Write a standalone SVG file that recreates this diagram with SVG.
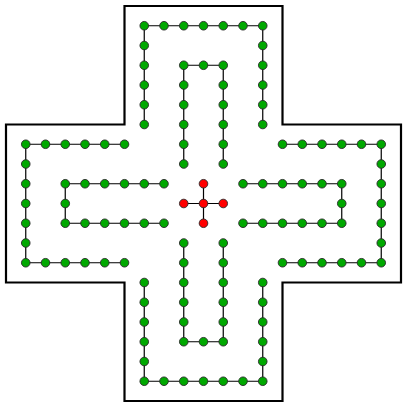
<svg xmlns="http://www.w3.org/2000/svg" width="407" height="407" viewBox="0 0 407 407">
<style>
.g{fill:#00a800;stroke:#2a2a2a;stroke-width:0.9}
.r{fill:#ff0000;stroke:#2a2a2a;stroke-width:0.9}
.e{fill:none;stroke:#000;stroke-width:1.2}
.o{fill:none;stroke:#000;stroke-width:2.2}
</style>
<rect width="407" height="407" fill="#fff"/>
<polygon id="outline" class="o" points="124.5,6 282.5,6 282.5,124.5 401,124.5 401,282.5 282.5,282.5 282.5,401 124.5,401 124.5,282.5 6,282.5 6,124.5 124.5,124.5"/>
<g id="connectors">
<polyline class="e" points="144.25,124.5 144.25,25.75 262.75,25.75 262.75,124.5"/>
<polyline class="e" points="183.75,164 183.75,65.25 223.25,65.25 223.25,164"/>
<polyline class="e" points="144.25,282.5 144.25,381.25 262.75,381.25 262.75,282.5"/>
<polyline class="e" points="183.75,243 183.75,341.75 223.25,341.75 223.25,243"/>
<polyline class="e" points="124.5,144.25 25.75,144.25 25.75,262.75 124.5,262.75"/>
<polyline class="e" points="164,183.75 65.25,183.75 65.25,223.25 164,223.25"/>
<polyline class="e" points="282.5,144.25 381.25,144.25 381.25,262.75 282.5,262.75"/>
<polyline class="e" points="243,183.75 341.75,183.75 341.75,223.25 243,223.25"/>
<line class="e" x1="203.5" y1="183.75" x2="203.5" y2="223.25"/>
<line class="e" x1="183.75" y1="203.5" x2="223.25" y2="203.5"/>
</g>
<g id="top-outer">
<g id="t1"><circle class="g" cx="144.25" cy="124.5" r="4.3"/></g>
<g id="t2"><circle class="g" cx="144.25" cy="104.75" r="4.3"/></g>
<g id="t3"><circle class="g" cx="144.25" cy="85" r="4.3"/></g>
<g id="t4"><circle class="g" cx="144.25" cy="65.25" r="4.3"/></g>
<g id="t5"><circle class="g" cx="144.25" cy="45.5" r="4.3"/></g>
<g id="t6"><circle class="g" cx="144.25" cy="25.75" r="4.3"/></g>
<g id="t7"><circle class="g" cx="164" cy="25.75" r="4.3"/></g>
<g id="t8"><circle class="g" cx="183.75" cy="25.75" r="4.3"/></g>
<g id="t9"><circle class="g" cx="203.5" cy="25.75" r="4.3"/></g>
<g id="t10"><circle class="g" cx="223.25" cy="25.75" r="4.3"/></g>
<g id="t11"><circle class="g" cx="243" cy="25.75" r="4.3"/></g>
<g id="t12"><circle class="g" cx="262.75" cy="25.75" r="4.3"/></g>
<g id="t13"><circle class="g" cx="262.75" cy="45.5" r="4.3"/></g>
<g id="t14"><circle class="g" cx="262.75" cy="65.25" r="4.3"/></g>
<g id="t15"><circle class="g" cx="262.75" cy="85" r="4.3"/></g>
<g id="t16"><circle class="g" cx="262.75" cy="104.75" r="4.3"/></g>
<g id="t17"><circle class="g" cx="262.75" cy="124.5" r="4.3"/></g>
</g>
<g id="top-inner">
<g id="ti1"><circle class="g" cx="183.75" cy="164" r="4.3"/></g>
<g id="ti2"><circle class="g" cx="183.75" cy="144.25" r="4.3"/></g>
<g id="ti3"><circle class="g" cx="183.75" cy="124.5" r="4.3"/></g>
<g id="ti4"><circle class="g" cx="183.75" cy="104.75" r="4.3"/></g>
<g id="ti5"><circle class="g" cx="183.75" cy="85" r="4.3"/></g>
<g id="ti6"><circle class="g" cx="183.75" cy="65.25" r="4.3"/></g>
<g id="ti7"><circle class="g" cx="203.5" cy="65.25" r="4.3"/></g>
<g id="ti8"><circle class="g" cx="223.25" cy="65.25" r="4.3"/></g>
<g id="ti9"><circle class="g" cx="223.25" cy="85" r="4.3"/></g>
<g id="ti10"><circle class="g" cx="223.25" cy="104.75" r="4.3"/></g>
<g id="ti11"><circle class="g" cx="223.25" cy="124.5" r="4.3"/></g>
<g id="ti12"><circle class="g" cx="223.25" cy="144.25" r="4.3"/></g>
<g id="ti13"><circle class="g" cx="223.25" cy="164" r="4.3"/></g>
</g>
<g id="bottom-outer">
<g id="b1"><circle class="g" cx="144.25" cy="282.5" r="4.3"/></g>
<g id="b2"><circle class="g" cx="144.25" cy="302.25" r="4.3"/></g>
<g id="b3"><circle class="g" cx="144.25" cy="322" r="4.3"/></g>
<g id="b4"><circle class="g" cx="144.25" cy="341.75" r="4.3"/></g>
<g id="b5"><circle class="g" cx="144.25" cy="361.5" r="4.3"/></g>
<g id="b6"><circle class="g" cx="144.25" cy="381.25" r="4.3"/></g>
<g id="b7"><circle class="g" cx="164" cy="381.25" r="4.3"/></g>
<g id="b8"><circle class="g" cx="183.75" cy="381.25" r="4.3"/></g>
<g id="b9"><circle class="g" cx="203.5" cy="381.25" r="4.3"/></g>
<g id="b10"><circle class="g" cx="223.25" cy="381.25" r="4.3"/></g>
<g id="b11"><circle class="g" cx="243" cy="381.25" r="4.3"/></g>
<g id="b12"><circle class="g" cx="262.75" cy="381.25" r="4.3"/></g>
<g id="b13"><circle class="g" cx="262.75" cy="361.5" r="4.3"/></g>
<g id="b14"><circle class="g" cx="262.75" cy="341.75" r="4.3"/></g>
<g id="b15"><circle class="g" cx="262.75" cy="322" r="4.3"/></g>
<g id="b16"><circle class="g" cx="262.75" cy="302.25" r="4.3"/></g>
<g id="b17"><circle class="g" cx="262.75" cy="282.5" r="4.3"/></g>
</g>
<g id="bottom-inner">
<g id="bi1"><circle class="g" cx="183.75" cy="243" r="4.3"/></g>
<g id="bi2"><circle class="g" cx="183.75" cy="262.75" r="4.3"/></g>
<g id="bi3"><circle class="g" cx="183.75" cy="282.5" r="4.3"/></g>
<g id="bi4"><circle class="g" cx="183.75" cy="302.25" r="4.3"/></g>
<g id="bi5"><circle class="g" cx="183.75" cy="322" r="4.3"/></g>
<g id="bi6"><circle class="g" cx="183.75" cy="341.75" r="4.3"/></g>
<g id="bi7"><circle class="g" cx="203.5" cy="341.75" r="4.3"/></g>
<g id="bi8"><circle class="g" cx="223.25" cy="341.75" r="4.3"/></g>
<g id="bi9"><circle class="g" cx="223.25" cy="322" r="4.3"/></g>
<g id="bi10"><circle class="g" cx="223.25" cy="302.25" r="4.3"/></g>
<g id="bi11"><circle class="g" cx="223.25" cy="282.5" r="4.3"/></g>
<g id="bi12"><circle class="g" cx="223.25" cy="262.75" r="4.3"/></g>
<g id="bi13"><circle class="g" cx="223.25" cy="243" r="4.3"/></g>
</g>
<g id="left-outer">
<g id="l1"><circle class="g" cx="124.5" cy="144.25" r="4.3"/></g>
<g id="l2"><circle class="g" cx="104.75" cy="144.25" r="4.3"/></g>
<g id="l3"><circle class="g" cx="85" cy="144.25" r="4.3"/></g>
<g id="l4"><circle class="g" cx="65.25" cy="144.25" r="4.3"/></g>
<g id="l5"><circle class="g" cx="45.5" cy="144.25" r="4.3"/></g>
<g id="l6"><circle class="g" cx="25.75" cy="144.25" r="4.3"/></g>
<g id="l7"><circle class="g" cx="25.75" cy="164" r="4.3"/></g>
<g id="l8"><circle class="g" cx="25.75" cy="183.75" r="4.3"/></g>
<g id="l9"><circle class="g" cx="25.75" cy="203.5" r="4.3"/></g>
<g id="l10"><circle class="g" cx="25.75" cy="223.25" r="4.3"/></g>
<g id="l11"><circle class="g" cx="25.75" cy="243" r="4.3"/></g>
<g id="l12"><circle class="g" cx="25.75" cy="262.75" r="4.3"/></g>
<g id="l13"><circle class="g" cx="45.5" cy="262.75" r="4.3"/></g>
<g id="l14"><circle class="g" cx="65.25" cy="262.75" r="4.3"/></g>
<g id="l15"><circle class="g" cx="85" cy="262.75" r="4.3"/></g>
<g id="l16"><circle class="g" cx="104.75" cy="262.75" r="4.3"/></g>
<g id="l17"><circle class="g" cx="124.5" cy="262.75" r="4.3"/></g>
</g>
<g id="left-inner">
<g id="li1"><circle class="g" cx="164" cy="183.75" r="4.3"/></g>
<g id="li2"><circle class="g" cx="144.25" cy="183.75" r="4.3"/></g>
<g id="li3"><circle class="g" cx="124.5" cy="183.75" r="4.3"/></g>
<g id="li4"><circle class="g" cx="104.75" cy="183.75" r="4.3"/></g>
<g id="li5"><circle class="g" cx="85" cy="183.75" r="4.3"/></g>
<g id="li6"><circle class="g" cx="65.25" cy="183.75" r="4.3"/></g>
<g id="li7"><circle class="g" cx="65.25" cy="203.5" r="4.3"/></g>
<g id="li8"><circle class="g" cx="65.25" cy="223.25" r="4.3"/></g>
<g id="li9"><circle class="g" cx="85" cy="223.25" r="4.3"/></g>
<g id="li10"><circle class="g" cx="104.75" cy="223.25" r="4.3"/></g>
<g id="li11"><circle class="g" cx="124.5" cy="223.25" r="4.3"/></g>
<g id="li12"><circle class="g" cx="144.25" cy="223.25" r="4.3"/></g>
<g id="li13"><circle class="g" cx="164" cy="223.25" r="4.3"/></g>
</g>
<g id="right-outer">
<g id="r1"><circle class="g" cx="282.5" cy="144.25" r="4.3"/></g>
<g id="r2"><circle class="g" cx="302.25" cy="144.25" r="4.3"/></g>
<g id="r3"><circle class="g" cx="322" cy="144.25" r="4.3"/></g>
<g id="r4"><circle class="g" cx="341.75" cy="144.25" r="4.3"/></g>
<g id="r5"><circle class="g" cx="361.5" cy="144.25" r="4.3"/></g>
<g id="r6"><circle class="g" cx="381.25" cy="144.25" r="4.3"/></g>
<g id="r7"><circle class="g" cx="381.25" cy="164" r="4.3"/></g>
<g id="r8"><circle class="g" cx="381.25" cy="183.75" r="4.3"/></g>
<g id="r9"><circle class="g" cx="381.25" cy="203.5" r="4.3"/></g>
<g id="r10"><circle class="g" cx="381.25" cy="223.25" r="4.3"/></g>
<g id="r11"><circle class="g" cx="381.25" cy="243" r="4.3"/></g>
<g id="r12"><circle class="g" cx="381.25" cy="262.75" r="4.3"/></g>
<g id="r13"><circle class="g" cx="361.5" cy="262.75" r="4.3"/></g>
<g id="r14"><circle class="g" cx="341.75" cy="262.75" r="4.3"/></g>
<g id="r15"><circle class="g" cx="322" cy="262.75" r="4.3"/></g>
<g id="r16"><circle class="g" cx="302.25" cy="262.75" r="4.3"/></g>
<g id="r17"><circle class="g" cx="282.5" cy="262.75" r="4.3"/></g>
</g>
<g id="right-inner">
<g id="ri1"><circle class="g" cx="243" cy="183.75" r="4.3"/></g>
<g id="ri2"><circle class="g" cx="262.75" cy="183.75" r="4.3"/></g>
<g id="ri3"><circle class="g" cx="282.5" cy="183.75" r="4.3"/></g>
<g id="ri4"><circle class="g" cx="302.25" cy="183.75" r="4.3"/></g>
<g id="ri5"><circle class="g" cx="322" cy="183.75" r="4.3"/></g>
<g id="ri6"><circle class="g" cx="341.75" cy="183.75" r="4.3"/></g>
<g id="ri7"><circle class="g" cx="341.75" cy="203.5" r="4.3"/></g>
<g id="ri8"><circle class="g" cx="341.75" cy="223.25" r="4.3"/></g>
<g id="ri9"><circle class="g" cx="322" cy="223.25" r="4.3"/></g>
<g id="ri10"><circle class="g" cx="302.25" cy="223.25" r="4.3"/></g>
<g id="ri11"><circle class="g" cx="282.5" cy="223.25" r="4.3"/></g>
<g id="ri12"><circle class="g" cx="262.75" cy="223.25" r="4.3"/></g>
<g id="ri13"><circle class="g" cx="243" cy="223.25" r="4.3"/></g>
</g>
<g id="center">
<g id="c0"><circle class="r" cx="203.5" cy="203.5" r="4.3"/></g>
<g id="cN"><circle class="r" cx="203.5" cy="183.75" r="4.3"/></g>
<g id="cW"><circle class="r" cx="183.75" cy="203.5" r="4.3"/></g>
<g id="cE"><circle class="r" cx="223.25" cy="203.5" r="4.3"/></g>
<g id="cS"><circle class="r" cx="203.5" cy="223.25" r="4.3"/></g>
</g>
</svg>
